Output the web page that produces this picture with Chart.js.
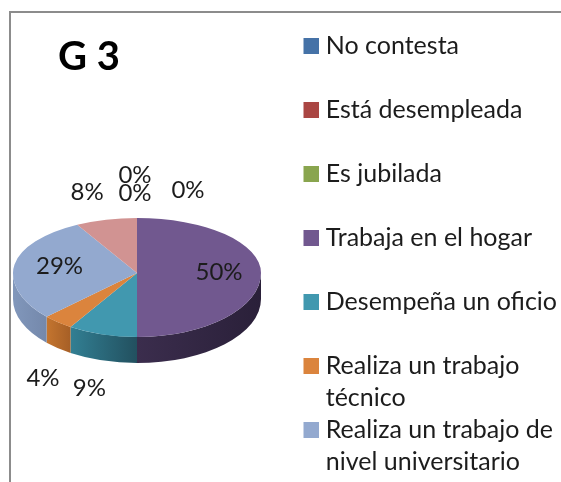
<!DOCTYPE html>
<html>
<head>
<meta charset="utf-8">
<title>G 3</title>
<script src="https://cdn.jsdelivr.net/npm/chart.js@4"></script>
<style>
    html, body { margin: 0; padding: 0; background: #fff; }
    body { width: 561px; height: 482px; position: relative; overflow: hidden; }
    #marco { position: absolute; left: 9px; top: 11px; right: 0; bottom: 0; border-top: 2px solid #8c8c8c; border-left: 2px solid #8c8c8c; }
    canvas { position: absolute; left: 0; top: 0; }
</style>
</head>
<body>
<div id="marco"></div>
<canvas id="grafico" width="561" height="482"></canvas>
<script>
// Datos
const categorias = [
    ["No contesta", ""],
    ["Está desempleada", ""],
    ["Es jubilada", ""],
    ["Trabaja en el hogar", ""],
    ["Desempeña un oficio", ""],
    ["Realiza un trabajo", "técnico"],
    ["Realiza un trabajo de", "nivel universitario"],
    ["", ""]
];
const valores = [0, 0, 0, 50, 9, 4, 29, 8];

// Estilos
const colores = ["#4572a7", "#aa4643", "#89a54e", "#71588f", "#4198af", "#db843d", "#93a9cf", "#d19392"];
const ladoClaro = ["#3a5f8a", "#8c3a38", "#718840", "#3b2d4d", "#327f93", "#c4752f", "#8197bb", "#b07b7a"];
const ladoOscuro = ["#2c4869", "#6b2c2a", "#566831", "#2a2039", "#22505f", "#a65f26", "#7488ab", "#8f6463"];
// desplazamiento de cada etiqueta desde el borde de su sector
const ajusteEtiquetas = [[51, -28], [-2, -25], [-2, -43], [-42, -1], [-13, 54], [-15, 56], [45, 2], [-19, -27]];

// Pastel en perspectiva
const PIE = { cx: 137, cy: 273, rx: 124, ryArriba: 55, ryAbajo: 64, alto: 26 };

function dibujarLado(ctx, arco, i) {
    const a0 = Math.max(arco.startAngle, 0);
    const a1 = Math.min(arco.endAngle, Math.PI);
    if (a1 <= a0) return;
    const { cx, cy, rx, ryAbajo, alto } = PIE;
    const x0 = cx + rx * Math.cos(a1);
    const x1 = cx + rx * Math.cos(a0);
    const grad = ctx.createLinearGradient(x0, 0, x1, 0);
    grad.addColorStop(0, ladoClaro[i]);
    grad.addColorStop(1, ladoOscuro[i]);
    ctx.beginPath();
    ctx.ellipse(cx, cy, rx, ryAbajo, 0, a0, a1);
    ctx.ellipse(cx, cy + alto, rx, ryAbajo, 0, a1, a0, true);
    ctx.closePath();
    ctx.fillStyle = grad;
    ctx.fill();
}

function dibujarMitad(ctx, arcos, arriba) {
    const { cx, cy, rx, ryArriba, ryAbajo } = PIE;
    ctx.save();
    ctx.beginPath();
    if (arriba) ctx.rect(0, 0, 561, cy);
    else ctx.rect(0, cy, 561, 482 - cy);
    ctx.clip();
    arcos.forEach(arco => {
        ctx.save();
        ctx.translate(cx, cy);
        ctx.scale(rx / arco.outerRadius, (arriba ? ryArriba : ryAbajo) / arco.outerRadius);
        ctx.translate(-arco.x, -arco.y);
        arco.draw(ctx);
        ctx.restore();
    });
    ctx.restore();
}

// cuadro de la leyenda: 16px con el texto pegado, como en el original.
// la leyenda centra la imagen y recorta lo que sale por la izquierda, por eso el hueco de 6px
function cuadro(color) {
    const c = document.createElement("canvas");
    c.width = 22;
    c.height = 16;
    const g = c.getContext("2d");
    g.fillStyle = color;
    g.fillRect(6, 0, 16, 16);
    return c;
}

const pastel3d = {
    id: "pastel3d",
    afterLayout(chart) {
        // el titulo no va pegado al borde
        chart.titleBlock.left = 58;
    },
    beforeDatasetsDraw(chart) {
        const ctx = chart.ctx;
        const arcos = chart.getDatasetMeta(0).data;
        arcos.forEach((arco, i) => dibujarLado(ctx, arco, i));
        dibujarMitad(ctx, arcos, true);
        dibujarMitad(ctx, arcos, false);

        // Etiquetas de porcentaje
        ctx.save();
        ctx.font = "24px Lato";
        ctx.fillStyle = "#1c1c1c";
        ctx.textAlign = "center";
        ctx.textBaseline = "middle";
        arcos.forEach((arco, i) => {
            const medio = (arco.startAngle + arco.endAngle) / 2;
            const s = Math.sin(medio);
            const x = PIE.cx + PIE.rx * Math.cos(medio);
            const y = PIE.cy + (s < 0 ? PIE.ryArriba : PIE.ryAbajo) * s;
            ctx.fillText(valores[i] + "%", x + ajusteEtiquetas[i][0], y + ajusteEtiquetas[i][1]);
        });
        ctx.restore();
        return false;
    }
};

new Chart(document.getElementById("grafico"), {
    type: "pie",
    data: {
        labels: categorias,
        datasets: [{ data: valores, backgroundColor: colores, borderWidth: 0 }]
    },
    options: {
        responsive: false,
        animation: false,
        events: [],
        layout: { padding: { top: 33, right: -6 } },
        plugins: {
            tooltip: { enabled: false },
            title: {
                display: true,
                text: "G 3",
                align: "start",
                fullSize: false,
                color: "#000",
                font: { family: "Lato", size: 40, weight: "bold", lineHeight: 1 },
                padding: { top: 4, bottom: 0 }
            },
            legend: {
                position: "right",
                align: "start",
                labels: {
                    usePointStyle: true,
                    boxWidth: 10,
                    boxHeight: 16,
                    padding: 0,
                    color: "#1c1c1c",
                    font: { family: "Lato", size: 25, lineHeight: 32 / 25 },
                    generateLabels: chart => Chart.overrides.pie.plugins.legend.labels.generateLabels(chart)
                        .map((item, i) => ({ ...item, pointStyle: cuadro(colores[i]) })),
                    filter: item => item.text[0] !== ""
                }
            }
        }
    },
    plugins: [pastel3d]
});
</script>
</body>
</html>
